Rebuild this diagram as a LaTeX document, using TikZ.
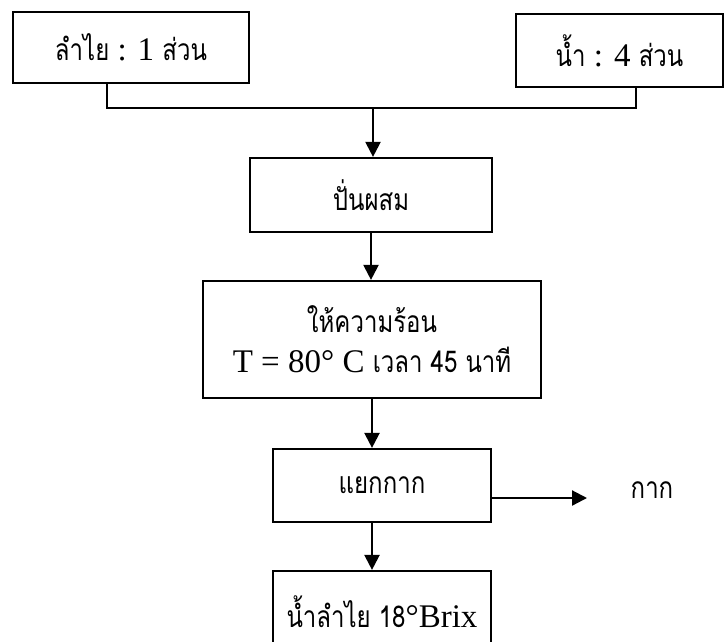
\documentclass[tikz,border=0pt]{standalone}
\usepackage{fontspec}
\setmainfont{Liberation Serif}
\newfontfamily\thaifont[Script=Thai,FakeStretch=0.8]{Loma}
\usetikzlibrary{arrows.meta}
\tikzset{
  box/.style={draw, line width=2.2pt, rectangle, inner sep=0pt, align=center,
    font=\fontsize{33}{38}\selectfont},
  arr/.style={line width=2.2pt, -{Triangle[width=15pt,length=15pt]}},
  ln/.style={line width=2.2pt},
}
\newcommand{\thtxt}[1]{{\thaifont\fontsize{30}{34}\selectfont #1}}
\begin{document}
\begin{tikzpicture}[x=1pt,y=-1pt]
\clip (0,0) rectangle (725,641);
\fill[white] (0,0) rectangle (725,641);
\node[box, minimum width=236pt, minimum height=71pt] (b1) at (131,47.5) {\thtxt{ลำไย} : 1 \thtxt{ส่วน}};
\node[box, minimum width=207pt, minimum height=73pt] (b2) at (619.5,50.5) {\thtxt{น้ำ} : 4 \thtxt{ส่วน}};
\node[box, minimum width=242pt, minimum height=74pt] (b3) at (371,195) {\thtxt{ปั่นผสม}};
\node[box, minimum width=338pt, minimum height=117pt] (b4) at (372,339.5) {\thtxt{ให้ความร้อน}\\[2pt] T = 80° C \thtxt{เวลา 45 นาที}};
\node[box, minimum width=218pt, minimum height=73pt] (b5) at (382,485.5) {\thtxt{แยกกาก}};
\node[box, minimum width=218pt, minimum height=82pt] (b6) at (382,612) {\thtxt{น้ำลำไย 18}°Brix};
\node[font=\thaifont\fontsize{30}{34}\selectfont] (kak) at (652,490) {กาก};
\coordinate (j1) at (107,108);
\coordinate (j2) at (636,108);
\coordinate (jc) at (373,108);
\coordinate (k) at (587,498);
\draw[ln] (b1.south -| j1) -- (j1) -- (j2) -- (b2.south -| j2);
\draw[arr] (jc) -- (jc |- b3.north);
\draw[arr] (b3.south) -- (b3.south |- b4.north);
\draw[arr] (b4.south) -- (b4.south |- b5.north);
\draw[arr] (b5.east |- k) -- (k);
\draw[arr] (b4.south |- b5.south) -- (b4.south |- b6.north);
\end{tikzpicture}
\end{document}
